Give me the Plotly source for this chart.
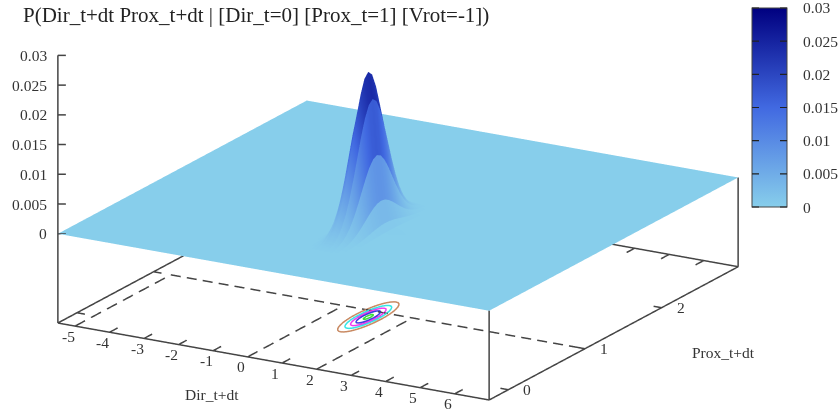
import numpy as np
import plotly.graph_objects as go

title_text = "P(Dir_t+dt Prox_t+dt | [Dir_t=0] [Prox_t=1] [Vrot=-1])"
x_title = "Dir_t+dt"
y_title = "Prox_t+dt"

x_range = [-5.5, 7.0]
y_range = [-0.25, 3.0]
z_floor = -0.015
z_top = 0.03

x_ticks = [-5, -4, -3, -2, -1, 0, 1, 2, 3, 4, 5, 6]
y_ticks = [0, 1, 2]
z_ticks = [0, 0.005, 0.01, 0.015, 0.02, 0.025, 0.03]
z_tick_labels = ["0", "0.005", "0.01", "0.015", "0.02", "0.025", "0.03"]

# grid read around the peak; everything outside it is flat at zero
peak_x = [0.375, 0.5, 0.625, 0.75, 0.875, 1.0, 1.125, 1.25, 1.375, 1.5, 1.625]
peak_y = [0.325, 0.375, 0.425, 0.475, 0.525, 0.575, 0.625, 0.675, 0.725, 0.775, 0.825, 0.875,
          0.925, 0.975, 1.025, 1.075, 1.125, 1.175, 1.225, 1.275, 1.325, 1.375, 1.425]
# one row per x slice
peak_z = [
 [.00001,.00001,.00002,.00003,.00005,.00008,.00011,.00015,.00019,.00022,.00024,.00025,.00024,.00022,.00019,.00015,.00011,.00008,.00005,.00003,.00002,.00001,.00001],
 [.00003,.00006,.00011,.00018,.00029,.00044,.00061,.00081,.00101,.00118,.00130,.00134,.00130,.00118,.00101,.00081,.00061,.00044,.00029,.00018,.00011,.00006,.00003],
 [.00011,.00022,.00039,.00067,.00106,.00160,.00226,.00299,.00372,.00435,.00478,.00493,.00478,.00435,.00372,.00299,.00226,.00160,.00106,.00067,.00039,.00022,.00011],
 [.00028,.00055,.00099,.00168,.00269,.00405,.00570,.00756,.00940,.01098,.01206,.01245,.01206,.01098,.00940,.00756,.00570,.00405,.00269,.00168,.00099,.00055,.00028],
 [.00050,.00095,.00173,.00294,.00470,.00707,.00996,.01320,.01642,.01918,.02108,.02175,.02108,.01918,.01642,.01320,.00996,.00707,.00470,.00294,.00173,.00095,.00050],
 [.00060,.00115,.00209,.00354,.00566,.00852,.01200,.01590,.01978,.02311,.02539,.02620,.02539,.02311,.01978,.01590,.01200,.00852,.00566,.00354,.00209,.00115,.00060],
 [.00050,.00095,.00173,.00294,.00470,.00707,.00996,.01320,.01642,.01918,.02108,.02175,.02108,.01918,.01642,.01320,.00996,.00707,.00470,.00294,.00173,.00095,.00050],
 [.00028,.00055,.00099,.00168,.00269,.00405,.00570,.00756,.00940,.01098,.01206,.01245,.01206,.01098,.00940,.00756,.00570,.00405,.00269,.00168,.00099,.00055,.00028],
 [.00011,.00022,.00039,.00067,.00106,.00160,.00226,.00299,.00372,.00435,.00478,.00493,.00478,.00435,.00372,.00299,.00226,.00160,.00106,.00067,.00039,.00022,.00011],
 [.00003,.00006,.00011,.00018,.00029,.00044,.00061,.00081,.00101,.00118,.00130,.00134,.00130,.00118,.00101,.00081,.00061,.00044,.00029,.00018,.00011,.00006,.00003],
 [.00001,.00001,.00002,.00003,.00005,.00008,.00011,.00015,.00019,.00022,.00024,.00025,.00024,.00022,.00019,.00015,.00011,.00008,.00005,.00003,.00002,.00001,.00001],
]

contour_levels = [0.005, 0.01, 0.015, 0.02, 0.025]
contour_colors = ["#c98a63", "#35e6e6", "#f03cf0", "#3c3cdc", "#3cdc3c"]

palette = [[0.0, "#87ceeb"], [0.5, "#4169e1"], [1.0, "#000080"]]

AX = "#444444"
FONT = "Liberation Serif"

# ---- surface arrays: slices keep a flat colour between neighbouring x values
px_ = np.array(peak_x)
py_ = np.array(peak_y)
pz = np.array(peak_z)  # (x, y)
eps = 1e-4
step = 0.125

xs = [x_range[0], px_[0] - step]
zcols = [np.zeros(len(py_)), np.zeros(len(py_))]
ccols = [np.zeros(len(py_)), np.zeros(len(py_))]
prev = np.zeros(len(py_))
prev_x = px_[0] - step
for i in range(len(px_) + 1):
    nxt = pz[i] if i < len(px_) else np.zeros(len(py_))
    nxt_x = px_[i] if i < len(px_) else px_[-1] + step
    mean = (prev + nxt) / 2
    xs += [prev_x + eps, nxt_x - eps]
    zcols += [prev + (nxt - prev) * eps / step, nxt - (nxt - prev) * eps / step]
    ccols += [mean, mean]
    prev, prev_x = nxt, nxt_x
xs.append(x_range[1])
zcols.append(np.zeros(len(py_)))
ccols.append(np.zeros(len(py_)))

ys = [y_range[0], py_[0] - 0.05] + list(py_) + [py_[-1] + 0.05, y_range[1]]


def pad(col):
    return np.concatenate([[0, 0], col, [0, 0]])


Z = np.array([pad(c) for c in zcols]).T
C = np.array([pad(c) for c in ccols]).T

fig = go.Figure()
flat = dict(ambient=1, diffuse=0, specular=0, fresnel=0, roughness=1)

fig.add_trace(go.Surface(
    x=xs, y=ys, z=Z, surfacecolor=C, cmin=0, cmax=z_top, colorscale=palette,
    lighting=flat, hoverinfo="skip", showscale=True,
    colorbar=dict(
        x=752 / 840, xanchor="left", xpad=0, ypad=0, thicknessmode="pixels", thickness=35,
        lenmode="pixels", len=199, y=1 - 107.5 / 414, yanchor="middle",
        ticks="", showticklabels=False,
        outlinecolor="#444444", outlinewidth=1,
    ),
))


def seg(x, y, z, color=AX, width=3):
    fig.add_trace(go.Scatter3d(
        x=x, y=y, z=z, mode="lines", line=dict(color=color, width=width),
        hoverinfo="skip", showlegend=False))


near = [3, 4, 5, 6, 7]
top_i = int(np.argmax(pz.max(axis=1)))
top_j = int(np.argmax(pz.max(axis=0)))
logz = np.log(pz)


def table_log(x, y):
    col = [np.interp(y, peak_y, logz[i]) for i in near]
    return np.polyval(np.polyfit(px_[near], col, 2), x)


radii = np.arange(0, 0.6, 0.004)
for lev, col in zip(contour_levels, contour_colors):
    rx, ry = [], []
    for a in np.radians(np.arange(0, 361, 10)):
        ca, sa = np.cos(a), np.sin(a)
        vals = np.array([table_log(px_[top_i] + r * ca, py_[top_j] + r * sa) for r in radii])
        r_hit = np.interp(-np.log(lev), -vals, radii)
        rx.append(px_[top_i] + r_hit * ca)
        ry.append(py_[top_j] + r_hit * sa)
    seg(rx, ry, [z_floor] * len(rx), color=col, width=3)


def dashed(a, b, n):
    # n dashes from a to b, in the floor plane
    px, py = [], []
    for k in range(n):
        s0 = k / n
        s1 = (k + 0.62) / n
        px += [a[0] + (b[0] - a[0]) * s0, a[0] + (b[0] - a[0]) * s1, None]
        py += [a[1] + (b[1] - a[1]) * s0, a[1] + (b[1] - a[1]) * s1, None]
    seg(px, py, [z_floor if v is not None else None for v in px])


x0, x1 = x_range
y0, y1 = y_range
# box edges
seg([x0, x1], [y0, y0], [z_floor, z_floor])
seg([x1, x1], [y0, y1], [z_floor, z_floor])
seg([x1, x0], [y1, y1], [z_floor, z_floor])
seg([x0, x0], [y1, y0], [z_floor, z_floor])
seg([x0, x0], [y0, y0], [z_floor, z_top])
seg([x1, x1], [y0, y0], [z_floor, 0])
seg([x1, x1], [y1, y1], [z_floor, 0])
# ticks
for t in x_ticks:
    seg([t, t], [y0, y0 + 0.105], [z_floor, z_floor])
    seg([t, t], [y1, y1 - 0.105], [z_floor, z_floor])
for t in y_ticks:
    seg([x0, x0 + 0.23], [t, t], [z_floor, z_floor])
    seg([x1, x1 - 0.23], [t, t], [z_floor, z_floor])
for t in z_ticks:
    seg([x0, x0 + 0.174], [y0, y0 + 0.026], [t, t])

# dashed guides on the floor
dashed((-5, y0), (-5, 1), 6)
dashed((0, y0), (0, 1), 6)
dashed((2, y0), (2, 1), 6)
dashed((-5, 1), (x1, 1), 26)

ann = []
label_font = dict(family=FONT, size=15.5, color="#333333")
for t in x_ticks:
    ann.append(dict(x=t, y=y0, z=z_floor, text=str(t), showarrow=False, font=label_font,
                    xanchor="center", yanchor="middle", xshift=-7, yshift=-10))
for t in y_ticks:
    ann.append(dict(x=x1, y=t, z=z_floor, text=str(t), showarrow=False, font=label_font,
                    xanchor="center", yanchor="middle", xshift=19, yshift=0))
for t, s in zip(z_ticks, z_tick_labels):
    ann.append(dict(x=x0, y=y0, z=t, text=s, showarrow=False, font=label_font,
                    xanchor="right", yanchor="middle", xshift=-9, yshift=0))

# colour bar labels and ticks, placed from the tick values
bar_bottom = 1 - 207 / 414
bar_height = 199 / 414
bar_left = 752 / 840
bar_right = 787 / 840
paper_ann = [
    dict(text=x_title, x=212 / 840, y=1 - 394 / 414, xref="paper", yref="paper", showarrow=False,
         xanchor="center", yanchor="middle", font=label_font),
    dict(text=y_title, x=723 / 840, y=1 - 352 / 414, xref="paper", yref="paper", showarrow=False,
         xanchor="center", yanchor="middle", font=label_font),
]
for t, s in zip(z_ticks, z_tick_labels):
    yp = bar_bottom + t / z_top * bar_height
    paper_ann.append(dict(text=s, x=801 / 840, y=yp, xref="paper", yref="paper", showarrow=False,
                          xanchor="left", yanchor="middle", font=label_font))
    for xp, off in ((bar_left, 10), (bar_right, -10)):
        paper_ann.append(dict(text=" ", x=xp, y=yp, xref="paper", yref="paper", showarrow=True,
                              arrowhead=0, arrowwidth=1.2, arrowcolor="#222222", ax=off, ay=0,
                              standoff=0, startstandoff=0))

ZOOM = 2.41
DIST = 6.0
e = np.radians(18.0)
th = np.radians(30.0)
direction = np.array([np.sin(th) * np.cos(e), -np.cos(th) * np.cos(e), np.sin(e)])
center = np.array([0.1264, -0.0063, -0.2113])
eye = center + DIST * direction

# ranges opened a hair so the box edges are not clipped on the cube faces
fig.update_layout(
    width=840, height=414, paper_bgcolor="white", showlegend=False,
    margin=dict(l=0, r=0, t=0, b=0, autoexpand=False),
    font=dict(family=FONT, color="#333333"),
    title=dict(text=title_text, x=23 / 840, xanchor="left", xref="container", y=1 - 15 / 414,
               yanchor="middle", yref="container", font=dict(family=FONT, size=21, color="#222222")),
    annotations=paper_ann,
    scene=dict(
        domain=dict(x=[0, 1], y=[0, 1]),
        aspectmode="manual", aspectratio=dict(x=ZOOM, y=ZOOM, z=0.565 * ZOOM),
        xaxis=dict(visible=False, range=[x0 - 0.01, x1 + 0.01]),
        yaxis=dict(visible=False, range=[y0 - 0.003, y1 + 0.003]),
        zaxis=dict(visible=False, range=[z_floor - 0.00003, z_top + 0.00003]),
        bgcolor="white",
        camera=dict(projection=dict(type="orthographic"),
                    up=dict(x=0, y=0, z=1),
                    center=dict(x=center[0], y=center[1], z=center[2]),
                    eye=dict(x=eye[0], y=eye[1], z=eye[2])),
        annotations=ann,
    ),
)
fig.write_html("out.html", post_script="document.body.style.margin='0px';",
               config={"displayModeBar": False})
